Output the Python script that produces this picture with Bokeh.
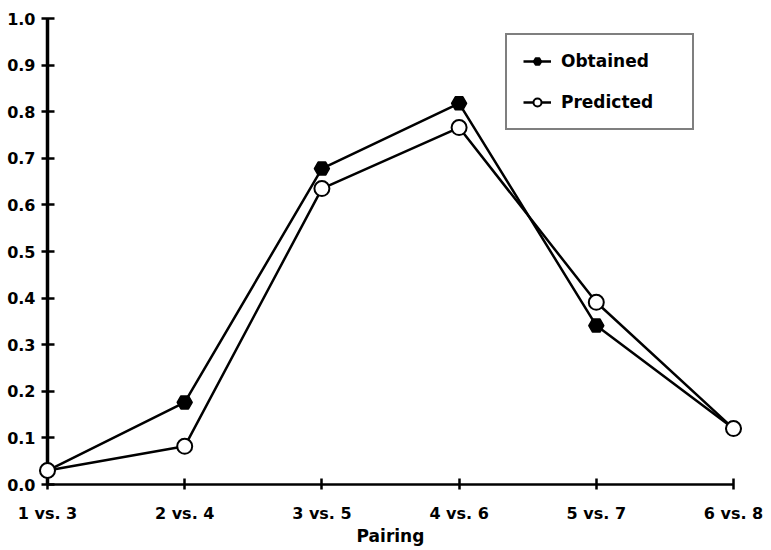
from bokeh.plotting import figure
from bokeh.models import Range1d, FixedTicker, PrintfTickFormatter, Legend, LegendItem
from bokeh.embed import file_html
from bokeh.resources import INLINE

pairings = ["1 vs. 3", "2 vs. 4", "3 vs. 5", "4 vs. 6", "5 vs. 7", "6 vs. 8"]
obtained = [0.03, 0.176, 0.678, 0.818, 0.341, 0.12]
predicted = [0.03, 0.082, 0.635, 0.766, 0.391, 0.12]
y_ticks = [0.0, 0.1, 0.2, 0.3, 0.4, 0.5, 0.6, 0.7, 0.8, 0.9, 1.0]
x_title = "Pairing"

FONT = "DejaVu Sans"
xs = list(range(len(pairings)))

p = figure(width=771, height=550, x_range=Range1d(0, len(pairings) - 1), y_range=Range1d(0, 1),
           output_backend="svg", toolbar_location=None, title=None,
           min_border_left=47, min_border_right=38, min_border_top=18, min_border_bottom=66)
p.xgrid.visible = False
p.ygrid.visible = False
p.outline_line_color = None
p.background_fill_color = "white"
p.border_fill_color = "white"

for ax in (p.xaxis[0], p.yaxis[0]):
    ax.axis_line_color = "black"
    ax.major_tick_line_color = "black"
    ax.minor_tick_line_color = None
    ax.major_label_text_font = FONT
    ax.major_label_text_font_style = "bold"
    ax.major_label_text_font_size = "16px"
    ax.major_label_text_color = "black"

p.xaxis.ticker = FixedTicker(ticks=xs)
p.xaxis.major_label_overrides = {i: s for i, s in enumerate(pairings)}
p.xaxis.axis_line_width = 2.5
p.xaxis.major_tick_line_width = 2.5
p.xaxis.major_tick_in = 6
p.xaxis.major_tick_out = 5
p.xaxis.major_label_standoff = 14
p.xaxis.axis_label = x_title
p.xaxis.axis_label_text_font = FONT
p.xaxis.axis_label_text_font_style = "bold"
p.xaxis.axis_label_text_font_size = "17px"
p.xaxis.axis_label_text_color = "black"
p.xaxis.axis_label_standoff = 0

p.yaxis.ticker = FixedTicker(ticks=y_ticks)
p.yaxis.formatter = PrintfTickFormatter(format="%.1f")
p.yaxis.axis_line_width = 3.5
p.yaxis.major_tick_line_width = 2.5
p.yaxis.major_tick_in = 7
p.yaxis.major_tick_out = 6
p.yaxis.major_label_standoff = 6

ol = p.line(xs, obtained, line_width=2.5, line_color="black", level="overlay")
pl = p.line(xs, predicted, line_width=2.5, line_color="black", level="overlay")
om = p.scatter(xs, obtained, marker="hex", size=15, fill_color="black", line_color="black",
               line_width=1.5, level="overlay")
pm = p.scatter(xs, predicted, marker="circle", size=15, fill_color="white", line_color="black",
               line_width=2, level="overlay")

legend = Legend(items=[LegendItem(label="Obtained", renderers=[ol, om]),
                       LegendItem(label="Predicted", renderers=[pl, pm])],
                location=(458, 354), border_line_color="black", border_line_width=2,
                padding=16, spacing=21, glyph_width=28, glyph_height=20, label_standoff=10,
                label_width=115, label_text_font=FONT, label_text_font_style="bold",
                label_text_font_size="17px", label_text_color="black",
                background_fill_color="white", background_fill_alpha=1.0)
p.add_layout(legend)

open("out.html", "w").write(file_html(p, INLINE))
